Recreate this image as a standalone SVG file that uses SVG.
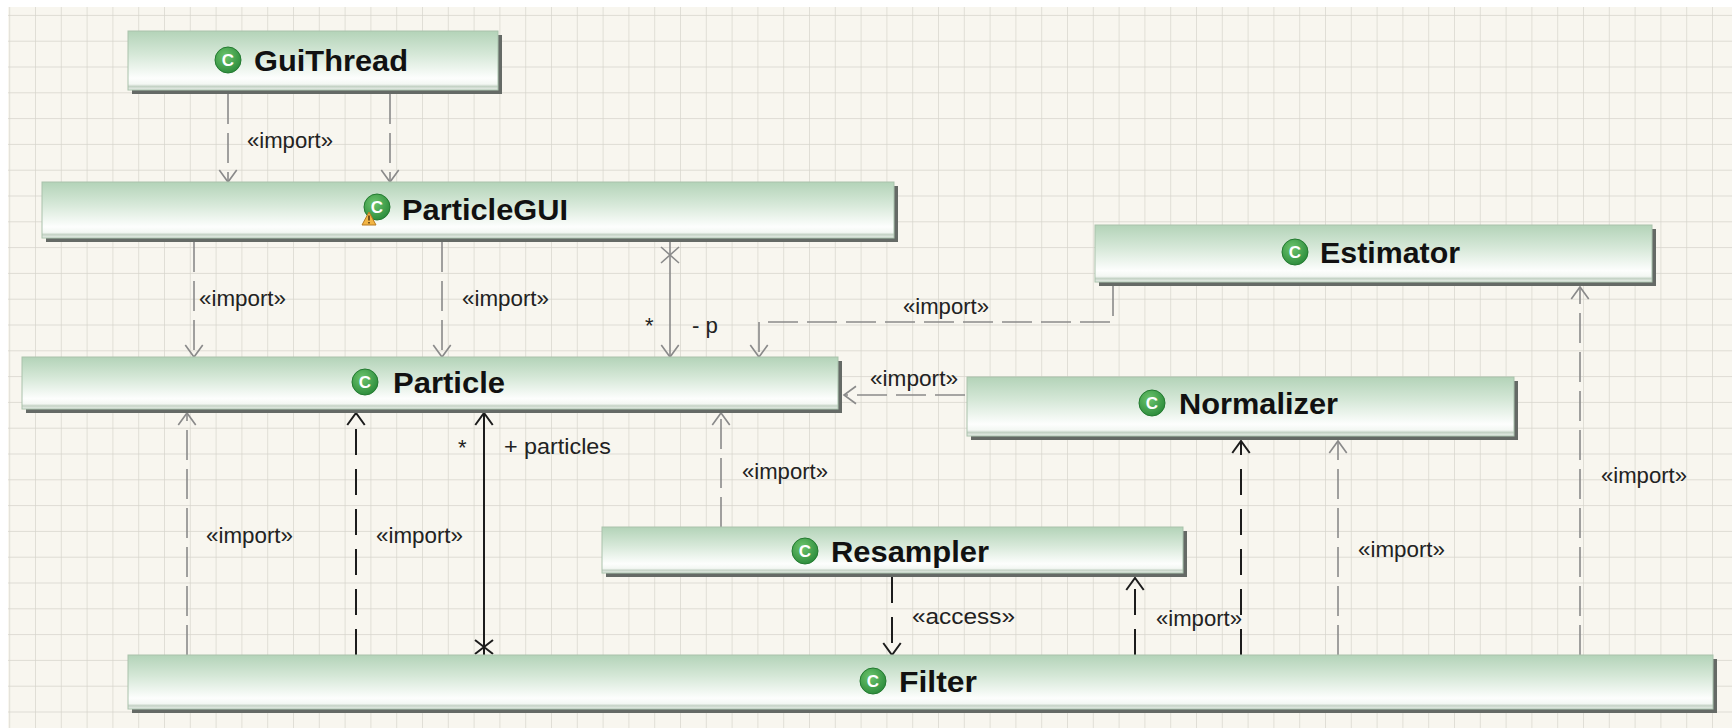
<svg xmlns="http://www.w3.org/2000/svg" width="1732" height="728" viewBox="0 0 1732 728">
<defs>
<pattern id="grid" patternUnits="userSpaceOnUse" x="9.2" y="14.9" width="25.8" height="25.8">
<path d="M0,0 H25.8 M0,0 V25.8" fill="none" stroke="#d6d4cc" stroke-width="1.4"/>
</pattern>
<linearGradient id="bg" x1="0" y1="0" x2="0" y2="1">
<stop offset="0" stop-color="#b3d3b8"/>
<stop offset="0.4" stop-color="#d6e8d8"/>
<stop offset="0.8" stop-color="#fdfefd"/>
<stop offset="0.9" stop-color="#f3f7f3"/>
<stop offset="0.94" stop-color="#c4d2c5"/>
<stop offset="1" stop-color="#edf2ed"/>
</linearGradient>
<radialGradient id="ig" cx="0.4" cy="0.35" r="0.7">
<stop offset="0" stop-color="#6cc46c"/>
<stop offset="1" stop-color="#2a8a3a"/>
</radialGradient>
<marker id="ag" markerUnits="userSpaceOnUse" markerWidth="24" markerHeight="24" refX="0" refY="0" viewBox="-13 -11 15 22" orient="auto">
<path d="M-11,-8 L0,0 L-11,8" fill="none" stroke="#8a8a8a" stroke-width="1.5"/>
</marker>
<marker id="ak" markerUnits="userSpaceOnUse" markerWidth="24" markerHeight="24" refX="0" refY="0" viewBox="-13 -11 15 22" orient="auto">
<path d="M-11,-8 L0,0 L-11,8" fill="none" stroke="#1c1c1c" stroke-width="1.8"/>
</marker>
</defs>
<style>
.sh{fill:#656a66}
.bx{fill:url(#bg);stroke:#a9c2ac;stroke-width:1}
.ic{fill:url(#ig);stroke:#237a30;stroke-width:1}
.ict{font-family:"Liberation Sans",Arial,sans-serif;font-weight:bold;font-size:17px;fill:#ffffff;text-anchor:middle}
.nm{font-family:"Liberation Sans",Arial,sans-serif;font-weight:bold;font-size:30px;fill:#111111}
.lb{font-family:"Liberation Sans",Arial,sans-serif;font-size:22px;fill:#222222}
.cg{fill:none;stroke:#8a8a8a;stroke-width:1.6;stroke-dasharray:30 9}
.ck{fill:none;stroke:#1c1c1c;stroke-width:2;stroke-dasharray:26 14}
.sg{fill:none;stroke:#8a8a8a;stroke-width:1.6}
.sk{fill:none;stroke:#1c1c1c;stroke-width:2}
</style>
<rect x="0" y="0" width="1732" height="728" fill="#ffffff"/>
<rect x="8" y="7" width="1724" height="721" fill="#f8f6ef"/>
<rect x="8" y="7" width="1724" height="721" fill="url(#grid)"/>

<g id="connectors">
<path class="cg" d="M228,94 V182" marker-end="url(#ag)"/>
<path class="cg" d="M390,94 V182" marker-end="url(#ag)"/>
<path class="cg" d="M194,242 V357" marker-end="url(#ag)"/>
<path class="cg" d="M442,242 V357" marker-end="url(#ag)"/>
<path class="sg" d="M670,242 V357" marker-end="url(#ag)"/>
<path class="sg" d="M661,247 L679,263 M661,263 L679,247"/>
<path class="cg" d="M1113,286 V322 H759 V357" marker-end="url(#ag)"/>
<path class="cg" d="M965,395 H844" marker-end="url(#ag)"/>
<path class="cg" d="M187,655 V413" marker-end="url(#ag)"/>
<path class="ck" d="M356,655 V413" marker-end="url(#ak)"/>
<path class="sk" d="M484,655 V413" marker-end="url(#ak)"/>
<path class="sk" d="M475,640 L493,654 M475,654 L493,640"/>
<path class="cg" d="M721,527 V413" marker-end="url(#ag)"/>
<path class="ck" d="M892,577 V655" marker-end="url(#ak)"/>
<path class="ck" d="M1135,655 V578" marker-end="url(#ak)"/>
<path class="ck" d="M1241,655 V441" marker-end="url(#ak)"/>
<path class="cg" d="M1338,655 V441" marker-end="url(#ag)"/>
<path class="cg" d="M1580,655 V287" marker-end="url(#ag)"/>
<text class="lb" x="247" y="148" textLength="86" lengthAdjust="spacingAndGlyphs">«import»</text>
<text class="lb" x="199" y="306" textLength="87" lengthAdjust="spacingAndGlyphs">«import»</text>
<text class="lb" x="462" y="306" textLength="87" lengthAdjust="spacingAndGlyphs">«import»</text>
<text class="lb" x="645" y="333">*</text>
<text class="lb" x="692" y="333" textLength="26" lengthAdjust="spacingAndGlyphs">- p</text>
<text class="lb" x="903" y="314" textLength="86" lengthAdjust="spacingAndGlyphs">«import»</text>
<text class="lb" x="870" y="386" textLength="88" lengthAdjust="spacingAndGlyphs">«import»</text>
<text class="lb" x="206" y="543" textLength="87" lengthAdjust="spacingAndGlyphs">«import»</text>
<text class="lb" x="376" y="543" textLength="87" lengthAdjust="spacingAndGlyphs">«import»</text>
<text class="lb" x="458" y="455">*</text>
<text class="lb" x="504" y="454" textLength="107" lengthAdjust="spacingAndGlyphs">+ particles</text>
<text class="lb" x="742" y="479" textLength="86" lengthAdjust="spacingAndGlyphs">«import»</text>
<text class="lb" x="912" y="624" textLength="103" lengthAdjust="spacingAndGlyphs">«access»</text>
<text class="lb" x="1156" y="626" textLength="86" lengthAdjust="spacingAndGlyphs">«import»</text>
<text class="lb" x="1358" y="557" textLength="87" lengthAdjust="spacingAndGlyphs">«import»</text>
<text class="lb" x="1601" y="483" textLength="86" lengthAdjust="spacingAndGlyphs">«import»</text>
</g>

<g id="GuiThread">
<rect class="sh" x="132" y="35" width="370" height="59"/>
<rect class="bx" x="128" y="31" width="370" height="59"/>
<circle class="ic" cx="228" cy="60" r="13"/>
<text class="ict" x="228" y="66">C</text>
<text class="nm" x="254" y="71" textLength="154" lengthAdjust="spacingAndGlyphs">GuiThread</text>
</g>

<g id="ParticleGUI">
<rect class="sh" x="46" y="186" width="852" height="56"/>
<rect class="bx" x="42" y="182" width="852" height="56"/>
<circle class="ic" cx="377" cy="207" r="13"/>
<text class="ict" x="377" y="213">C</text>
<path d="M369,212 L376,225 L362,225 Z" fill="#f2b544" stroke="#b87a20" stroke-width="1" stroke-linejoin="round"/>
<path d="M369,215.5 V220.5 M369,222 V223.5" stroke="#5a3a10" stroke-width="1.6"/>
<text class="nm" x="402" y="220" textLength="166" lengthAdjust="spacingAndGlyphs">ParticleGUI</text>
</g>

<g id="Estimator">
<rect class="sh" x="1099" y="229" width="557" height="57"/>
<rect class="bx" x="1095" y="225" width="557" height="57"/>
<circle class="ic" cx="1295" cy="252" r="13"/>
<text class="ict" x="1295" y="258">C</text>
<text class="nm" x="1320" y="263" textLength="140" lengthAdjust="spacingAndGlyphs">Estimator</text>
</g>

<g id="Particle">
<rect class="sh" x="26" y="361" width="816" height="52"/>
<rect class="bx" x="22" y="357" width="816" height="52"/>
<circle class="ic" cx="365" cy="382" r="13"/>
<text class="ict" x="365" y="388">C</text>
<text class="nm" x="393" y="393" textLength="112" lengthAdjust="spacingAndGlyphs">Particle</text>
</g>

<g id="Normalizer">
<rect class="sh" x="971" y="381" width="547" height="59"/>
<rect class="bx" x="967" y="377" width="547" height="59"/>
<circle class="ic" cx="1152" cy="403" r="13"/>
<text class="ict" x="1152" y="409">C</text>
<text class="nm" x="1179" y="414" textLength="159" lengthAdjust="spacingAndGlyphs">Normalizer</text>
</g>

<g id="Resampler">
<rect class="sh" x="606" y="531" width="581" height="46"/>
<rect class="bx" x="602" y="527" width="581" height="46"/>
<circle class="ic" cx="805" cy="551" r="13"/>
<text class="ict" x="805" y="557">C</text>
<text class="nm" x="831" y="562" textLength="158" lengthAdjust="spacingAndGlyphs">Resampler</text>
</g>

<g id="Filter">
<rect class="sh" x="132" y="659" width="1585" height="54"/>
<rect class="bx" x="128" y="655" width="1585" height="54"/>
<circle class="ic" cx="873" cy="681" r="13"/>
<text class="ict" x="873" y="687">C</text>
<text class="nm" x="899" y="692" textLength="78" lengthAdjust="spacingAndGlyphs">Filter</text>
</g>
</svg>
